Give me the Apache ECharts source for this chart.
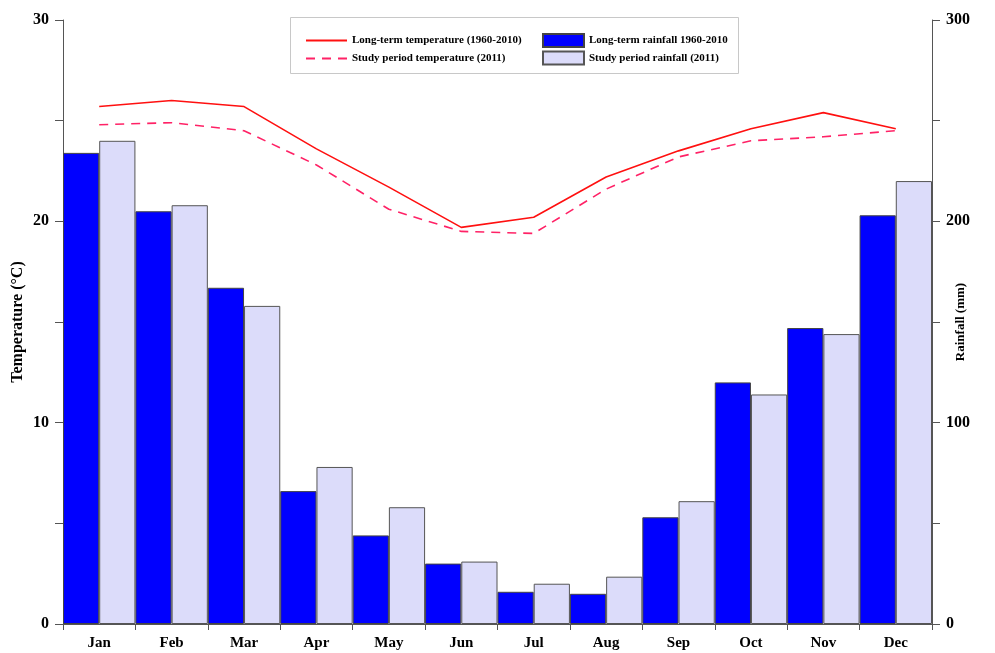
<!DOCTYPE html>
<html>
<head>
<meta charset="utf-8">
<script src="https://cdn.jsdelivr.net/npm/echarts@6/dist/echarts.min.js"></script>
<style>
    html, body { margin: 0; padding: 0; background: #fff; }
    #chart { width: 995px; height: 653px; }
</style>
</head>
<body>
<div id="chart"></div>
<script>
    let months = ['Jan', 'Feb', 'Mar', 'Apr', 'May', 'Jun', 'Jul', 'Aug', 'Sep', 'Oct', 'Nov', 'Dec']
    let tempLongTerm = [25.7, 26.0, 25.7, 23.6, 21.7, 19.7, 20.2, 22.2, 23.5, 24.6, 25.4, 24.6]
    let tempStudy = [24.8, 24.9, 24.5, 22.8, 20.6, 19.5, 19.4, 21.6, 23.2, 24.0, 24.2, 24.5]
    let rainLongTerm = [234, 205, 167, 66, 44, 30, 16, 15, 53, 120, 147, 203]
    let rainStudy = [240, 208, 158, 78, 58, 31, 20, 23.5, 61, 114, 144, 220]

    let seriesNames = ['Long-term temperature (1960-2010)', 'Study period temperature (2011)',
        'Long-term rainfall 1960-2010', 'Study period rainfall (2011)']

    let font = 'Liberation Serif'
    let axisColor = '#555'

    let chart = echarts.init(document.getElementById('chart'))

    let legendBase = {
        orient: 'vertical',
        itemWidth: 41,
        itemHeight: 13,
        textStyle: {
            fontFamily: font,
            fontWeight: 'bold',
            fontSize: 11,
            color: '#000'
        }
    }

    let option = {
        animation: false,
        backgroundColor: '#fff',
        grid: {
            left: 63,
            right: 63,
            top: 20,
            bottom: 29
        },
        graphic: [{
            type: 'rect',
            left: 290,
            top: 17,
            shape: { width: 448, height: 56 },
            style: { fill: '#fff', stroke: '#c8c8c8', lineWidth: 1 },
            z: 50
        }],
        legend: [
            Object.assign({}, legendBase, {
                left: 300,
                top: 30,
                itemGap: 7,
                data: [
                    { name: seriesNames[0], itemStyle: { opacity: 0 } },
                    { name: seriesNames[1], itemStyle: { opacity: 0 } }
                ],
                z: 60
            }),
            Object.assign({}, legendBase, {
                left: 537,
                top: 28,
                itemGap: 2.5,
                icon: 'rect',
                data: [seriesNames[2], seriesNames[3]],
                z: 60
            })
        ],
        xAxis: {
            type: 'category',
            data: months,
            boundaryGap: true,
            axisLine: { lineStyle: { color: axisColor } },
            axisTick: { show: true, length: 6, lineStyle: { color: axisColor } },
            axisLabel: {
                fontFamily: font,
                fontWeight: 'bold',
                fontSize: 15,
                color: '#000',
                margin: 12
            },
            splitLine: { show: false }
        },
        yAxis: [{
            type: 'value',
            min: 0,
            max: 30,
            interval: 10,
            name: 'Temperature (\u00B0C)',
            nameLocation: 'middle',
            nameGap: 37,
            nameMoveOverlap: false,
            nameTextStyle: {
                fontFamily: font,
                fontWeight: 'bold',
                fontSize: 16,
                color: '#000'
            },
            axisLine: { show: true, lineStyle: { color: axisColor } },
            axisTick: { show: true, length: 8, lineStyle: { color: axisColor } },
            minorTick: { show: true, splitNumber: 2, length: 8, lineStyle: { color: axisColor } },
            axisLabel: {
                fontFamily: font,
                fontWeight: 'bold',
                fontSize: 16,
                color: '#000',
                margin: 14
            },
            splitLine: { show: false }
        }, {
            type: 'value',
            min: 0,
            max: 300,
            interval: 100,
            name: 'Rainfall (mm)',
            nameLocation: 'middle',
            nameGap: 22,
            nameMoveOverlap: false,
            nameRotate: 90,
            nameTextStyle: {
                fontFamily: font,
                fontWeight: 'bold',
                fontSize: 13,
                color: '#000'
            },
            axisLine: { show: true, lineStyle: { color: axisColor } },
            axisTick: { show: true, length: 8, lineStyle: { color: axisColor } },
            minorTick: { show: true, splitNumber: 2, length: 8, lineStyle: { color: axisColor } },
            axisLabel: {
                fontFamily: font,
                fontWeight: 'bold',
                fontSize: 16,
                color: '#000',
                margin: 14
            },
            splitLine: { show: false }
        }],
        series: [{
            name: seriesNames[2],
            type: 'bar',
            yAxisIndex: 1,
            barGap: '0%',
            barCategoryGap: '0%',
            itemStyle: { color: '#0000ff', borderColor: '#444', borderWidth: 1 },
            data: rainLongTerm
        }, {
            name: seriesNames[3],
            type: 'bar',
            yAxisIndex: 1,
            barGap: '0%',
            barCategoryGap: '0%',
            itemStyle: { color: '#dcdcfa', borderColor: '#555', borderWidth: 1 },
            data: rainStudy
        }, {
            name: seriesNames[0],
            type: 'line',
            yAxisIndex: 0,
            symbol: 'none',
            itemStyle: { color: '#ff1010' },
            lineStyle: { color: '#ff1010', width: 1.6 },
            data: tempLongTerm
        }, {
            name: seriesNames[1],
            type: 'line',
            yAxisIndex: 0,
            symbol: 'none',
            itemStyle: { color: '#ff2266' },
            lineStyle: { color: '#ff2266', width: 1.6, type: [9, 7] },
            data: tempStudy
        }]
    }
    chart.setOption(option)
</script>
</body>
</html>
